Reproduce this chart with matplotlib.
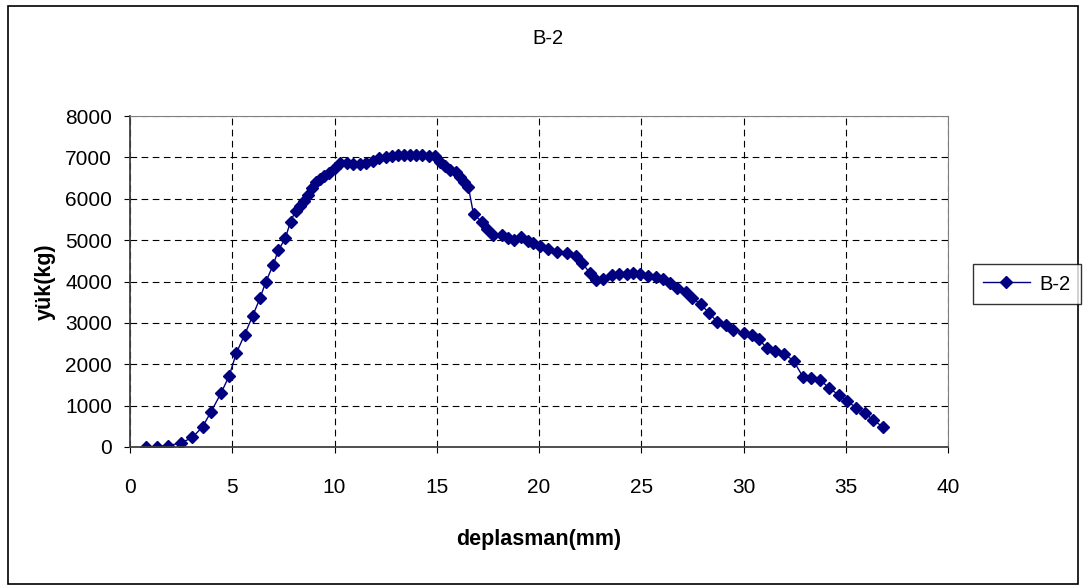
import matplotlib.pyplot as plt
from matplotlib.patches import Rectangle

plt.rcParams['font.family'] = ['Liberation Sans', 'DejaVu Sans']

# B-2 numunesi: deplasman (mm) - yük (kg)
deplasman = [0.8, 1.3, 1.85, 2.5, 3.05, 3.55, 3.95, 4.45, 4.85, 5.2, 5.6, 6.0, 6.35, 6.65,
             7.0, 7.25, 7.6, 7.85, 8.1, 8.3, 8.5, 8.7, 8.9, 9.1, 9.3, 9.5, 9.75, 10.0,
             10.25, 10.6, 10.9, 11.25, 11.55, 11.9, 12.2, 12.5, 12.8, 13.1, 13.4, 13.7,
             14.0, 14.3, 14.6, 14.9, 15.15, 15.4, 15.65, 15.95, 16.15, 16.35, 16.55, 16.8,
             17.2, 17.45, 17.75, 18.2, 18.5, 18.8, 19.1, 19.45, 19.7, 20.05, 20.45, 20.9,
             21.35, 21.8, 22.1, 22.5, 22.8, 23.15, 23.55, 23.9, 24.3, 24.6, 24.95, 25.35,
             25.7, 26.05, 26.4, 26.75, 27.2, 27.5, 27.9, 28.3, 28.7, 29.15, 29.5, 30.0,
             30.4, 30.75, 31.15, 31.55, 32.0, 32.45, 32.9, 33.3, 33.75, 34.2, 34.65, 35.05,
             35.5, 35.95, 36.35, 36.8]
yuk = [0, 10, 30, 100, 230, 490, 840, 1300, 1720, 2270, 2710, 3170, 3590, 4000,
       4400, 4750, 5050, 5450, 5710, 5820, 5950, 6100, 6250, 6400, 6480, 6550, 6620, 6740,
       6860, 6870, 6850, 6840, 6870, 6920, 6990, 7020, 7040, 7050, 7050, 7050,
       7050, 7050, 7040, 7030, 6900, 6780, 6700, 6650, 6530, 6410, 6280, 5620,
       5450, 5260, 5130, 5120, 5060, 5000, 5080, 4980, 4940, 4860, 4780, 4720,
       4700, 4620, 4450, 4200, 4040, 4050, 4150, 4190, 4180, 4200, 4190, 4130,
       4100, 4050, 3970, 3840, 3750, 3600, 3450, 3250, 3030, 2950, 2830, 2750,
       2710, 2600, 2390, 2330, 2250, 2080, 1700, 1660, 1620, 1420, 1260, 1120,
       950, 810, 650, 490]

x_ticks = list(range(0, 45, 5))
y_ticks = list(range(0, 9000, 1000))

fig = plt.figure(figsize=(10.86, 5.88), dpi=100)
ax = fig.add_axes([130 / 1086, 141 / 588, 818 / 1086, 331 / 588])

line, = ax.plot(deplasman, yuk, color='#000080', lw=1.0, marker='D',
                markersize=6.5, markerfacecolor='#000080', markeredgecolor='#000080',
                label='B-2')

ax.set_xlim(0, 40)
ax.set_ylim(0, 8000)
ax.set_xticks(x_ticks)
ax.set_yticks(y_ticks)
ax.tick_params(labelsize=15, length=4, direction='out', color='black')
ax.tick_params(axis='x', pad=18)
ax.tick_params(axis='y', pad=9)
ax.grid(True, color='black', linestyle=(0, (6, 4)), linewidth=0.8)

for side in ('top', 'right'):
    ax.spines[side].set_color('#808080')
for side in ('bottom', 'left'):
    ax.spines[side].set_color('#404040')
    ax.spines[side].set_linewidth(1.3)

ax.set_xlabel('deplasman(mm)', fontsize=15.5, fontweight='bold', labelpad=23)
ax.set_ylabel('yük(kg)', fontsize=15.5, fontweight='bold', labelpad=7)
fig.text(548 / 1086, 1 - 38 / 588, 'B-2', fontsize=14.5, ha='center', va='center')

leg = fig.legend(handles=[line], loc='center', bbox_to_anchor=(1027 / 1086, 1 - 284 / 588),
                 fontsize=14.5, frameon=True, fancybox=False, edgecolor='black',
                 handlelength=2.3, handletextpad=0.5, borderpad=0.5, borderaxespad=0)
leg.get_frame().set_linewidth(1.0)

# dış çerçeve
fig.patches.append(Rectangle((8 / 1086, 4 / 588), 1070 / 1086, 578 / 588,
                             transform=fig.transFigure, fill=False,
                             edgecolor='black', linewidth=1.2))

fig.savefig('out.png', dpi=100)
